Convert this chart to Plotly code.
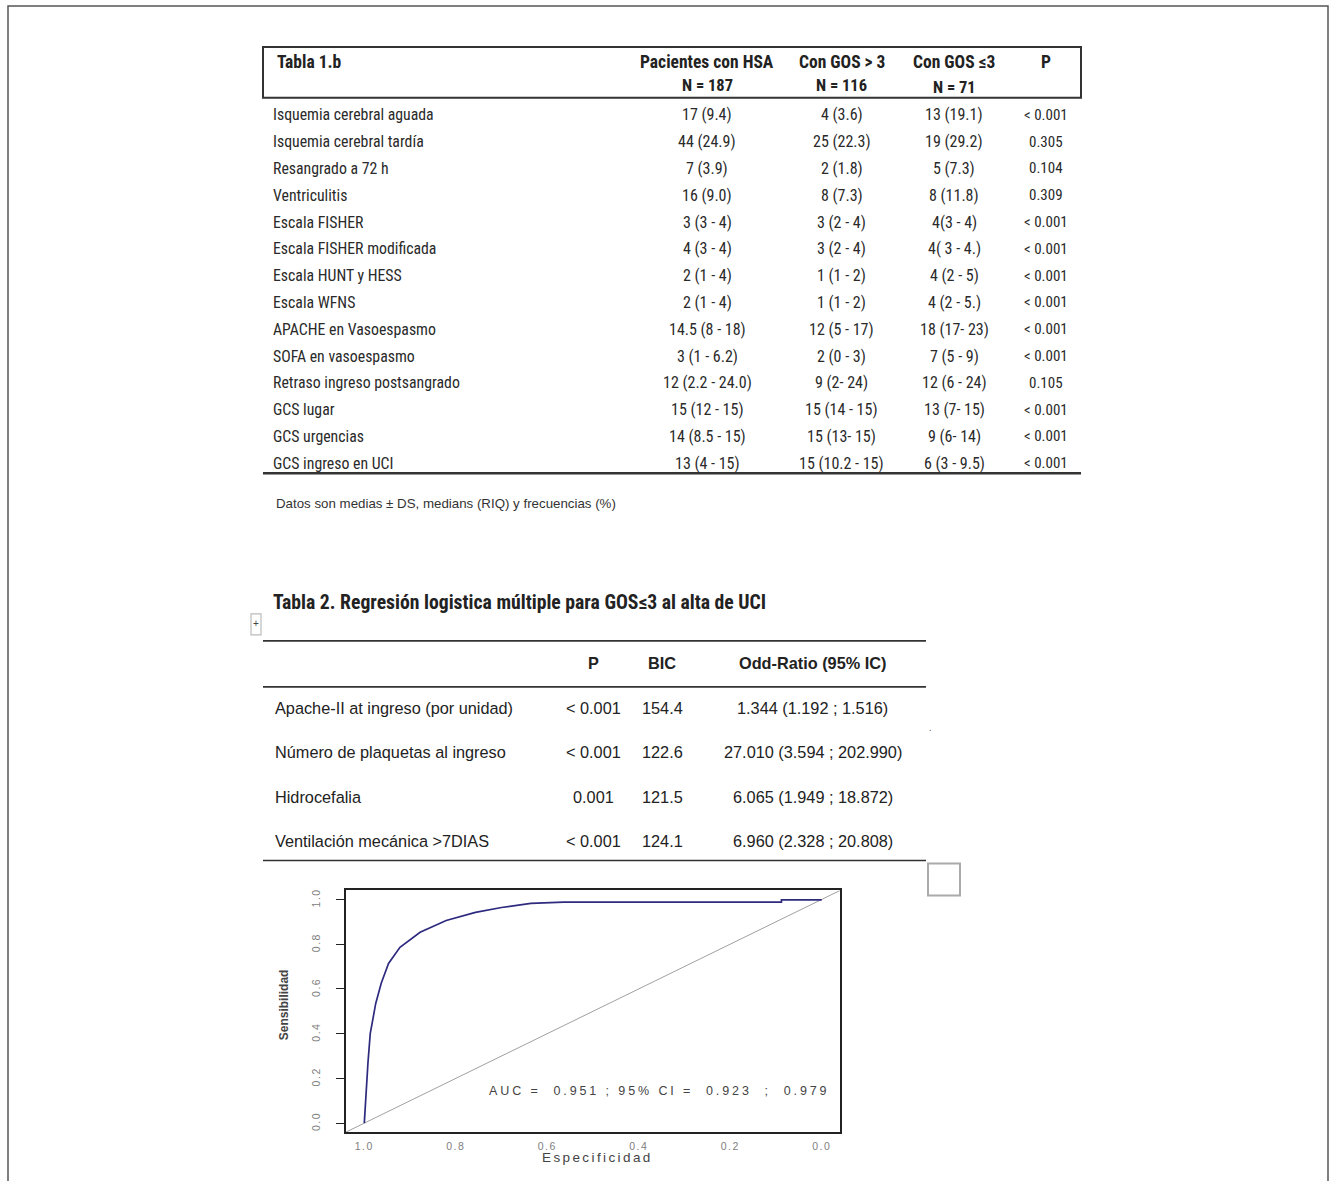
import plotly.graph_objects as go

# ---------------- data ----------------
t1_title = "Tabla 1.b"
t1_headers = ["Pacientes con HSA", "Con GOS > 3", "Con GOS ≤3", "P"]
t1_n = ["N = 187", "N = 116", "N = 71", ""]
t1_rows = ["Isquemia cerebral aguada", "Isquemia cerebral tardía", "Resangrado a 72 h",
           "Ventriculitis", "Escala FISHER", "Escala FISHER modificada", "Escala HUNT y HESS",
           "Escala WFNS", "APACHE en Vasoespasmo", "SOFA en vasoespasmo",
           "Retraso ingreso postsangrado", "GCS lugar", "GCS urgencias", "GCS ingreso en UCI"]
t1_all = ["17 (9.4)", "44 (24.9)", "7 (3.9)", "16 (9.0)", "3 (3 - 4)", "4 (3 - 4)", "2 (1 - 4)",
          "2 (1 - 4)", "14.5 (8 - 18)", "3 (1 - 6.2)", "12 (2.2 - 24.0)", "15 (12 - 15)",
          "14 (8.5 - 15)", "13 (4 - 15)"]
t1_gt3 = ["4 (3.6)", "25 (22.3)", "2 (1.8)", "8 (7.3)", "3 (2 - 4)", "3 (2 - 4)", "1 (1 - 2)",
          "1 (1 - 2)", "12 (5 - 17)", "2 (0 - 3)", "9 (2- 24)", "15 (14 - 15)", "15 (13- 15)",
          "15 (10.2 - 15)"]
t1_le3 = ["13 (19.1)", "19 (29.2)", "5 (7.3)", "8 (11.8)", "4(3 - 4)", "4( 3 - 4.)", "4 (2 - 5)",
          "4 (2 - 5.)", "18 (17- 23)", "7 (5 - 9)", "12 (6 - 24)", "13 (7- 15)", "9 (6- 14)",
          "6 (3 - 9.5)"]
t1_p = ["< 0.001", "0.305", "0.104", "0.309", "< 0.001", "< 0.001", "< 0.001", "< 0.001",
        "< 0.001", "< 0.001", "0.105", "< 0.001", "< 0.001", "< 0.001"]
t1_note = "Datos son medias ± DS, medians (RIQ) y frecuencias (%)"

t2_title = "Tabla 2. Regresión logistica múltiple para GOS≤3 al alta de UCI"
t2_headers = ["P", "BIC", "Odd-Ratio (95% IC)"]
t2_vars = ["Apache-II at ingreso (por unidad)", "Número de plaquetas al ingreso",
           "Hidrocefalia", "Ventilación mecánica >7DIAS"]
t2_p = ["< 0.001", "< 0.001", "0.001", "< 0.001"]
t2_bic = ["154.4", "122.6", "121.5", "124.1"]
t2_or = ["1.344 (1.192 ; 1.516)", "27.010 (3.594 ; 202.990)", "6.065 (1.949 ; 18.872)",
         "6.960 (2.328 ; 20.808)"]

roc_spec = [1.0, 0.996, 0.992, 0.987, 0.975, 0.963, 0.947, 0.922, 0.878, 0.821, 0.757,
            0.700, 0.636, 0.564, 0.088, 0.088, 0.0]
roc_sens = [0.0, 0.147, 0.270, 0.400, 0.535, 0.625, 0.714, 0.786, 0.853, 0.906, 0.942,
            0.964, 0.982, 0.988, 0.988, 0.998, 0.998]
roc_ticks = [1.0, 0.8, 0.6, 0.4, 0.2, 0.0]
roc_ticktext = ["1.0", "0.8", "0.6", "0.4", "0.2", "0.0"]
auc_text = "AUC =  0.951 ; 95% CI =  0.923  ;  0.979"
auc_pos = (0.355, 0.143)
x_range = [1.04, -0.04]
y_range = [-0.04, 1.04]

# ---------------- helpers ----------------
W, H = 1330, 1181


def X(px):
    return px / W


def Y(py):
    return 1 - py / H


NARROW = "Liberation Sans Narrow, Arial Narrow, Roboto Condensed, Liberation Sans, Arial, sans-serif"
SANS = "Liberation Sans, Arial, sans-serif"

fig = go.Figure()
ann = []
shapes = []


def spaced(s, ls):
    return '<span style="letter-spacing:%spx">%s</span>' % (ls, s)


def txt(px, py, s, size=14, family=NARROW, color="#222", anchor="left", bold=False, angle=0):
    if bold:
        s = "<b>" + s + "</b>"
    ann.append(dict(x=X(px), y=Y(py), xref="paper", yref="paper", text=s, showarrow=False,
                    xanchor=anchor, yanchor="middle", textangle=angle,
                    font=dict(size=size, family=family, color=color)))


def line(x0, y0, x1, y1, color="#333", width=1.5):
    shapes.append(dict(type="line", xref="paper", yref="paper", x0=X(x0), y0=Y(y0),
                       x1=X(x1), y1=Y(y1), line=dict(color=color, width=width)))


def rect(x0, y0, x1, y1, color="#333", width=1.5):
    shapes.append(dict(type="rect", xref="paper", yref="paper", x0=X(x0), y0=Y(y0),
                       x1=X(x1), y1=Y(y1), line=dict(color=color, width=width)))


# page border
rect(8, 4, 1328, 1300, color="#555", width=1.5)

# ---------------- Table 1 ----------------
rect(263, 45, 1081, 96, color="#333", width=2)
txt(275, 60, t1_title, size=17.5, bold=True)
col_x = [707, 842, 954, 1046]
for cx, h, n in zip(col_x, t1_headers, t1_n):
    txt(cx, 60, h, size=17.5, anchor="center", bold=True)
    if n:
        txt(cx, 84 if n != "N = 71" else 86, n, size=16.5, anchor="center", bold=True)
row_y0, row_dy = 113, 26.85
for i, name in enumerate(t1_rows):
    yy = row_y0 + i * row_dy
    txt(271, yy, name, size=15.8, color="#2a2a2a")
    txt(col_x[0], yy, t1_all[i], size=16, anchor="center", color="#2a2a2a")
    txt(col_x[1], yy, t1_gt3[i], size=16, anchor="center", color="#2a2a2a")
    txt(col_x[2], yy, t1_le3[i], size=16, anchor="center", color="#2a2a2a")
    txt(col_x[3], yy, t1_p[i], size=15, anchor="center", color="#2a2a2a")
line(263, 472, 1081, 472, color="#333", width=2.4)
txt(274, 502, t1_note, size=13.3, family=SANS, color="#333")

# ---------------- Table 2 ----------------
txt(271, 602, t2_title, size=19.7, bold=True)
rect(251, 613, 261, 634, color="#bbb", width=1.2)
txt(256, 623, "+", size=10, anchor="center", family=SANS, color="#444")
line(263, 640, 926, 640, color="#333", width=1.6)
h2_x = [593, 662, 813]
for cx, h in zip(h2_x, t2_headers):
    txt(cx, 662, h, size=16.3, anchor="center", bold=True, family=SANS, color="#222")
line(263, 686, 926, 686, color="#333", width=1.6)
r2_y = [707, 751, 796, 840]
for i, name in enumerate(t2_vars):
    yy = r2_y[i]
    txt(273, yy, name, size=16.3, family=SANS)
    txt(h2_x[0], yy, t2_p[i], size=16.3, anchor="center", family=SANS)
    txt(h2_x[1], yy, t2_bic[i], size=16.3, anchor="center", family=SANS)
    txt(h2_x[2], yy, t2_or[i], size=16.3, anchor="center", family=SANS)
line(263, 860, 926, 860, color="#333", width=1.6)
txt(931, 727, ".", size=10, anchor="center", color="#666")
rect(928, 863, 960, 895, color="#aaa", width=2)

# ---------------- ROC curve ----------------
fig.add_trace(go.Scatter(x=[x_range[0], x_range[1]], y=[1 - x_range[0], 1 - x_range[1]],
                         mode="lines", line=dict(color="#a0a0a0", width=1), hoverinfo="skip"))
fig.add_trace(go.Scatter(x=roc_spec, y=roc_sens, mode="lines",
                         line=dict(color="#2e2a7e", width=1.7), hoverinfo="skip"))
ann.append(dict(x=auc_pos[0], y=auc_pos[1], xref="x", yref="y", text=spaced(auc_text, 2.9),
                showarrow=False, xanchor="center", yanchor="middle",
                font=dict(size=12.5, family=SANS, color="#444")))
txt(597, 1157, spaced("Especificidad", 2.4), size=13.5, anchor="center", family=SANS,
    color="#444")
txt(284, 1005, "Sensibilidad", size=12, anchor="center", family=SANS, color="#444",
    bold=True, angle=-90)

axis_common = dict(showline=True, mirror=True, linecolor="#222", linewidth=1.7,
                   showgrid=False, zeroline=False, tickvals=roc_ticks,
                   ticktext=[spaced(t, 1.5) for t in roc_ticktext],
                   tickfont=dict(size=10.5, family=SANS, color="#808080"))

fig.update_layout(
    width=W, height=H, margin=dict(l=0, r=0, t=0, b=0),
    paper_bgcolor="white", plot_bgcolor="white", showlegend=False,
    xaxis=dict(domain=[X(346), X(840)], range=x_range, anchor="y", ticks="",
               ticklabelstandoff=3, **axis_common),
    yaxis=dict(domain=[Y(1132), Y(890)], range=y_range, anchor="x", tickangle=-90,
               ticks="outside", ticklen=8, tickwidth=1.2, tickcolor="#222",
               ticklabelstandoff=12, **axis_common),
    annotations=ann, shapes=shapes,
)

fig.write_html("out.html", config={"displayModeBar": False},
               post_script="document.body.style.margin='0';document.body.style.overflow='hidden';")
